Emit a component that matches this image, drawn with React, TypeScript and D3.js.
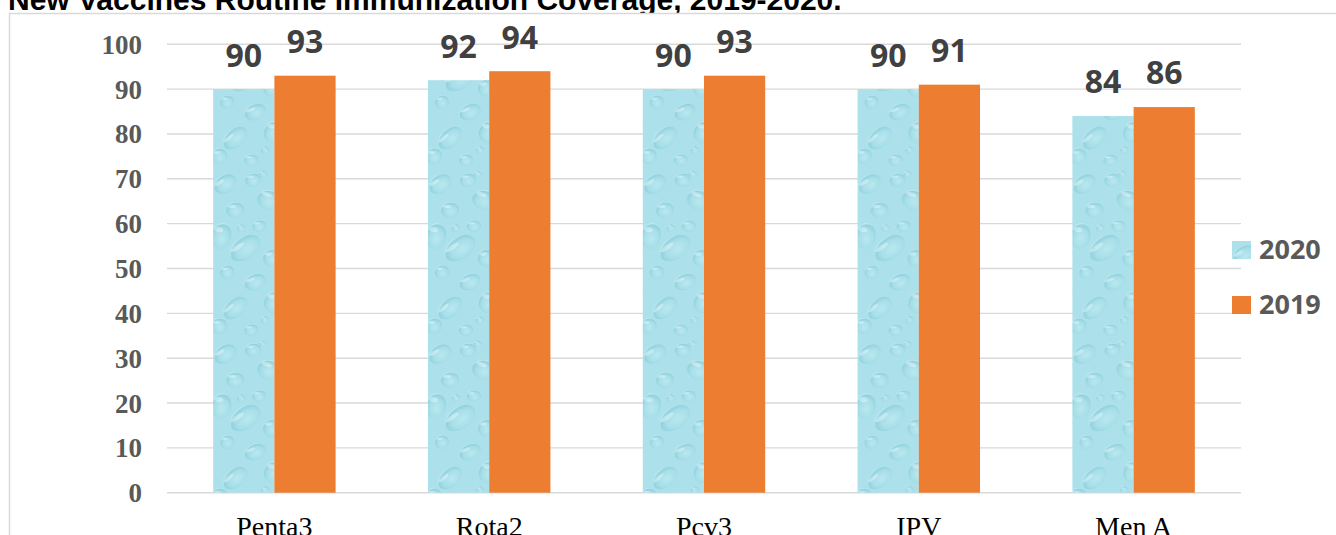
import React from "react";
import * as d3 from "d3";

// Chart data
const categories = ["Penta3", "Rota2", "Pcv3", "IPV", "Men A"];
const seriesNames = ["2020", "2019"];
const values2020 = [90, 92, 90, 90, 84];
const values2019 = [93, 94, 93, 91, 86];
const yTicks = [0, 10, 20, 30, 40, 50, 60, 70, 80, 90, 100];
const title = "New Vaccines Routine Immunization Coverage, 2019-2020.";

// Decorative water-drop texture for the 2020 bars: [cx, cy, rx, ry, angle]
const droplets: [number, number, number, number, number][] = [
  [12, 14, 12, 9, -30],
  [40, 10, 8, 7, 0],
  [56, 30, 12, 10, 20],
  [22, 40, 9, 8, 0],
  [46, 56, 7, 6, 0],
  [8, 66, 10, 13, 10],
  [32, 78, 17, 11, -35],
  [58, 88, 8, 9, 0],
  [14, 102, 7, 7, 0],
  [42, 112, 11, 8, -20],
  [60, 132, 9, 11, 15],
  [22, 138, 14, 9, -40],
  [6, 156, 8, 8, 0],
  [38, 160, 7, 6, 0],
  [52, 150, 4, 4, 0],
  [28, 58, 4, 4, 0],
  [50, 4, 4, 3, 0],
];

const W = 1336;
const H = 535;
const plotLeft = 167;
const plotRight = 1241;
const plotTop = 44.3;
const plotBottom = 492.7;

const ORANGE = "#ED7D31";

export default function App() {
  const x0 = d3
    .scaleBand<string>()
    .domain(categories)
    .range([plotLeft, plotRight])
    .paddingInner(0.43)
    .paddingOuter(0.215);
  const x1 = d3.scaleBand<string>().domain(seriesNames).range([0, x0.bandwidth()]);
  const y = d3.scaleLinear().domain([0, 100]).range([plotBottom, plotTop]);

  const series = [
    { name: "2020", values: values2020, fill: "url(#waterDrops)" },
    { name: "2019", values: values2019, fill: ORANGE },
  ];

  return (
    <svg
      width={W}
      height={H}
      style={{ position: "absolute", left: 0, top: 0, background: "#fff" }}
    >
      <defs>
        <radialGradient id="dropGrad" cx="55%" cy="60%" r="60%">
          <stop offset="0%" stopColor="#bce9f1" />
          <stop offset="60%" stopColor="#a6dee8" />
          <stop offset="88%" stopColor="#8dcfdc" />
          <stop offset="100%" stopColor="#c8eef4" />
        </radialGradient>
        <pattern id="waterDrops" patternUnits="userSpaceOnUse" width={64} height={170}>
          <rect width={64} height={170} fill="#ace1eb" />
          {droplets.map(([cx, cy, rx, ry, a], i) => (
            <g key={i} transform={`translate(${cx},${cy}) rotate(${a})`} opacity={0.85}>
              <ellipse rx={rx} ry={ry} fill="url(#dropGrad)" />
              <ellipse
                cx={-rx * 0.35}
                cy={-ry * 0.45}
                rx={rx * 0.45}
                ry={ry * 0.2}
                fill="#ffffff"
                opacity={0.4}
              />
            </g>
          ))}
        </pattern>
      </defs>

      {/* title */}
      <text
        x={8}
        y={10}
        fontFamily="Liberation Sans, Arial, sans-serif"
        fontWeight="bold"
        fontSize={30}
        fill="#000"
      >
        {title}
      </text>

      {/* chart frame */}
      <rect x={9.5} y={13.5} width={W} height={H} fill="#fff" stroke="#d9d9d9" strokeWidth={1.5} />

      {/* gridlines */}
      {yTicks.map((t) => (
        <line
          key={t}
          x1={plotLeft}
          x2={plotRight}
          y1={y(t)}
          y2={y(t)}
          stroke="#d9d9d9"
          strokeWidth={1.4}
        />
      ))}

      {/* y tick labels */}
      {yTicks.map((t) => (
        <text
          key={t}
          x={142}
          y={y(t) + 9.5}
          textAnchor="end"
          fontFamily="Liberation Serif, Times New Roman, serif"
          fontWeight="bold"
          fontSize={27}
          fill="#595959"
        >
          {t}
        </text>
      ))}

      {/* bars */}
      {categories.map((c, i) => (
        <g key={c} transform={`translate(${x0(c)},0)`}>
          {series.map((s) => (
            <rect
              key={s.name}
              x={x1(s.name)}
              y={y(s.values[i])}
              width={x1.bandwidth()}
              height={y(0) - y(s.values[i])}
              fill={s.fill}
            />
          ))}
          {series.map((s) => (
            <text
              key={s.name + "-lbl"}
              x={(x1(s.name) as number) + x1.bandwidth() / 2}
              y={y(s.values[i]) - 22.6}
              textAnchor="middle"
              fontFamily="Open Sans, sans-serif"
              fontWeight="bold"
              fontSize={32}
              fill="#404040"
            >
              {s.values[i]}
            </text>
          ))}
        </g>
      ))}

      {/* category labels */}
      {categories.map((c) => (
        <text
          key={c}
          x={(x0(c) as number) + x0.bandwidth() / 2}
          y={535.5}
          textAnchor="middle"
          fontFamily="Liberation Serif, Times New Roman, serif"
          fontSize={28}
          fill="#000"
        >
          {c}
        </text>
      ))}

      {/* legend */}
      {series.map((s, i) => (
        <g key={s.name} transform={`translate(1232,${241 + i * 55})`}>
          <rect width={19} height={18} fill={s.fill} />
          <text
            x={27}
            y={18.3}
            fontFamily="Open Sans, sans-serif"
            fontWeight="bold"
            fontSize={27}
            fill="#595959"
          >
            {s.name}
          </text>
        </g>
      ))}
    </svg>
  );
}
